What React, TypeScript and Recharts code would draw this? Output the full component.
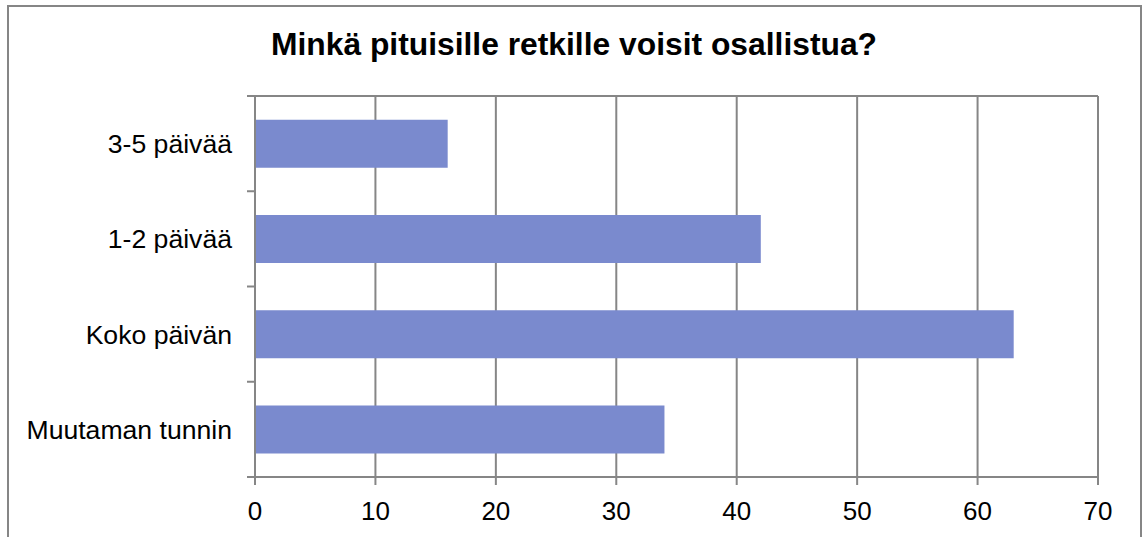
import React from 'react';
import { BarChart, Bar, XAxis, YAxis, CartesianGrid } from 'recharts';

const categories = ['3-5 päivää', '1-2 päivää', 'Koko päivän', 'Muutaman tunnin'];
const values = [16, 42, 63, 34];
const xTicks = [0, 10, 20, 30, 40, 50, 60, 70];
const title = 'Minkä pituisille retkille voisit osallistua?';

const data = categories.map((c, i) => ({ name: c, value: values[i] }));

const W = 1143;
const H = 537;
const M = { top: 96, right: 45, bottom: 0, left: 0 };
const X_AXIS_H = 60;
const Y_AXIS_W = 255;
const BAND = (H - M.top - M.bottom - X_AXIS_H) / categories.length;
const GRAY = '#868686';
const FONT = 'Liberation Sans, Arial, sans-serif';

const YTick = (props: any) => {
  const { x, y, payload, index } = props;
  return (
    <g>
      <line x1={x - 8} x2={x} y1={y - BAND / 2} y2={y - BAND / 2} stroke={GRAY} strokeWidth={2} />
      {index === categories.length - 1 && (
        <line x1={x - 8} x2={x} y1={y + BAND / 2} y2={y + BAND / 2} stroke={GRAY} strokeWidth={2} />
      )}
      <text x={x - 23} y={y} dy="0.355em" textAnchor="end" fontSize={26.6} fontFamily={FONT} fill="#000">
        {payload.value}
      </text>
    </g>
  );
};

export default function App() {
  return (
    <div style={{ position: 'absolute', left: 0, top: 0, width: W, height: H, overflow: 'hidden', background: '#fff' }}>
      <div
        style={{
          position: 'absolute',
          left: 0,
          width: W,
          top: 24,
          textAlign: 'center',
          fontFamily: FONT,
          fontWeight: 'bold',
          fontSize: 31.8,
          lineHeight: '40px',
          paddingLeft: 5,
          boxSizing: 'border-box',
          whiteSpace: 'nowrap',
        }}
      >
        {title}
      </div>
      <div style={{ position: 'absolute', left: 0, top: 0 }}>
        <BarChart width={W} height={H} data={data} layout="vertical" margin={M} barCategoryGap="25%">
          <CartesianGrid
            horizontal
            vertical
            stroke={GRAY}
            strokeWidth={2}
            horizontalCoordinatesGenerator={(p: any) => [p.offset.top]}
          />
          <XAxis
            type="number"
            domain={[0, 70]}
            ticks={xTicks}
            interval={0}
            height={X_AXIS_H}
            axisLine={{ stroke: GRAY, strokeWidth: 2 }}
            tickLine={{ stroke: GRAY, strokeWidth: 2 }}
            tickSize={8}
            tickMargin={17}
            tick={{ fontSize: 26, fill: '#000', fontFamily: FONT }}
          />
          <YAxis
            type="category"
            dataKey="name"
            width={Y_AXIS_W}
            axisLine={{ stroke: GRAY, strokeWidth: 2 }}
            tickLine={false}
            tickSize={0}
            tickMargin={0}
            interval={0}
            tick={<YTick />}
          />
          <Bar dataKey="value" fill="#7a8ace" isAnimationActive={false} />
        </BarChart>
      </div>
      <svg width={W} height={H} style={{ position: 'absolute', left: 0, top: 0, pointerEvents: 'none' }}>
        <path d={`M8,${H} V6 H1141 V${H}`} fill="none" stroke={GRAY} strokeWidth={2} />
      </svg>
    </div>
  );
}
